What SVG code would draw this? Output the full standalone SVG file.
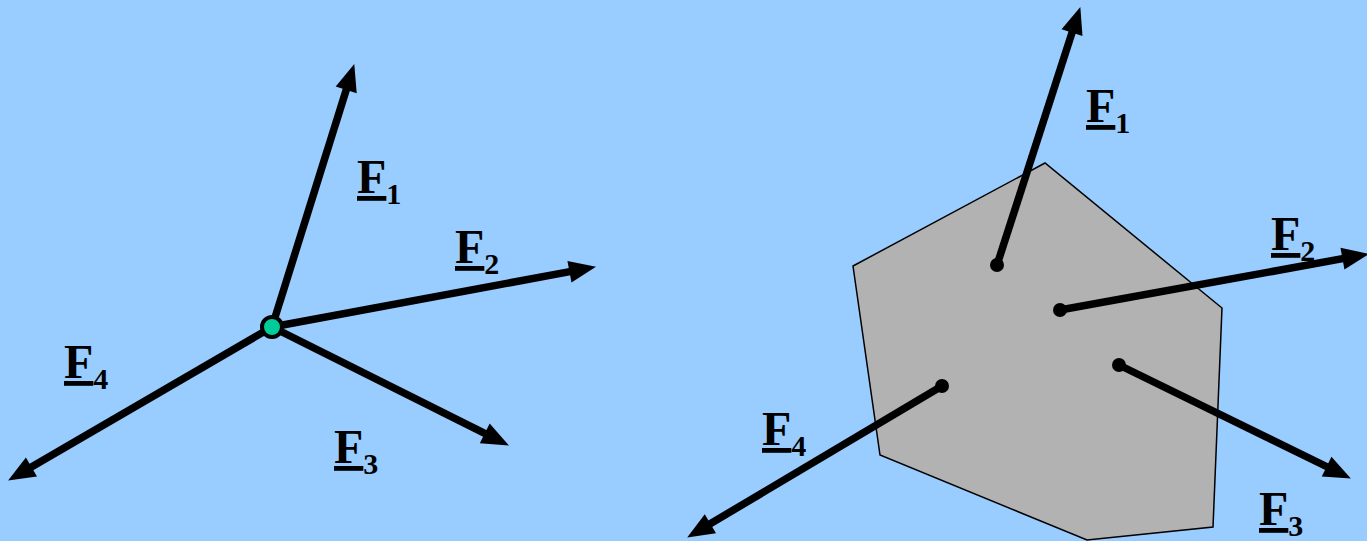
<svg xmlns="http://www.w3.org/2000/svg" width="1367" height="541" viewBox="0 0 1367 541">
<defs>
<marker id="ah" markerUnits="userSpaceOnUse" markerWidth="26" markerHeight="22" refX="10" refY="11" orient="auto" overflow="visible">
<path d="M0,0 L27,11 L0,22 z" fill="#000"/>
</marker>
<style>
.v{stroke:#000;stroke-width:7.5;fill:none;marker-end:url(#ah)}
.lbl{font-weight:bold;fill:#000}
.f{font-size:48px;text-decoration:underline;text-decoration-thickness:4px;text-underline-offset:7px}
.s{font-size:30px}
.dot{fill:#000}
</style>
</defs>
<rect width="1367" height="541" fill="#99CCFF"/>
<g id="body">
<polygon points="1045,163 853,266 880,455 1087,540 1213,527 1222,308" fill="#B2B2B2" stroke="#000" stroke-width="1.5"/>
</g>
<g id="connectors">
<line class="v" x1="272" y1="327" x2="349.2" y2="80.3"/>
<line class="v" x1="272" y1="327" x2="579.3" y2="269.9"/>
<line class="v" x1="272" y1="327" x2="493.7" y2="437.8"/>
<line class="v" x1="272" y1="327" x2="22.8" y2="472.0"/>
<line class="v" x1="997" y1="265" x2="1075.1" y2="23.2"/>
<line class="v" x1="1060" y1="310" x2="1352.3" y2="256.9"/>
<line class="v" x1="1119" y1="365" x2="1335.6" y2="471.0"/>
<line class="v" x1="942" y1="386" x2="701.8" y2="528.8"/>
</g>
<g id="particle">
<circle cx="272" cy="327" r="10" fill="#00CC99" stroke="#000" stroke-width="4"/>
</g>
<g id="points">
<circle class="dot" cx="997" cy="265" r="7"/>
<circle class="dot" cx="1060" cy="310" r="7"/>
<circle class="dot" cx="1119" cy="365" r="7"/>
<circle class="dot" cx="942" cy="386" r="7"/>
</g>
<g id="labels" font-family="'Liberation Serif', 'DejaVu Serif', serif">
<text class="lbl" x="357" y="193"><tspan class="f">F</tspan><tspan class="s" dy="11">1</tspan></text>
<text class="lbl" x="455" y="263"><tspan class="f">F</tspan><tspan class="s" dy="11">2</tspan></text>
<text class="lbl" x="334" y="463"><tspan class="f">F</tspan><tspan class="s" dy="11">3</tspan></text>
<text class="lbl" x="64" y="378"><tspan class="f">F</tspan><tspan class="s" dy="11">4</tspan></text>
<text class="lbl" x="1086" y="122"><tspan class="f">F</tspan><tspan class="s" dy="11">1</tspan></text>
<text class="lbl" x="1271" y="250"><tspan class="f">F</tspan><tspan class="s" dy="11">2</tspan></text>
<text class="lbl" x="1259" y="525"><tspan class="f">F</tspan><tspan class="s" dy="11">3</tspan></text>
<text class="lbl" x="762" y="445"><tspan class="f">F</tspan><tspan class="s" dy="11">4</tspan></text>
</g>
</svg>
